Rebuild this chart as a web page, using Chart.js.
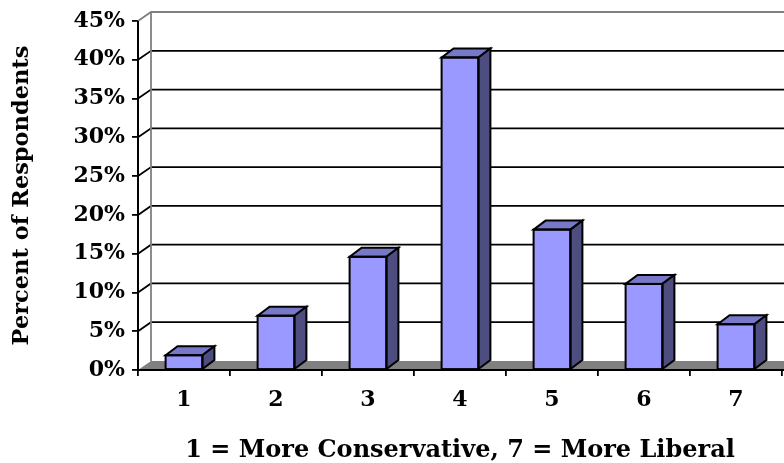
<!DOCTYPE html>
<html>
<head>
<meta charset="utf-8">
<script src="https://cdn.jsdelivr.net/npm/chart.js@4.4.0/dist/chart.umd.min.js"></script>
<style>
  html, body { margin: 0; padding: 0; background: #fff; }
  canvas { display: block; }
</style>
</head>
<body>
<canvas id="chart" width="784" height="463"></canvas>
<script>
// data
const categories = ['1', '2', '3', '4', '5', '6', '7'];
const percents = [1.9, 7.0, 14.6, 40.3, 18.1, 11.1, 5.9];
const yMax = 45;
const yStep = 5;

const xTitle = '1 = More Conservative, 7 = More Liberal';
const yTitle = 'Percent of Respondents';

const fontFamily = '"DejaVu Serif", "Liberation Serif", serif';

// 3d look: how far the back wall sits up/right from the front axes
const wallDx = 13, wallDy = -9;
const barDx = 12, barDy = -9;

const frontColor = '#9999ff';
const topColor = '#7878c8';
const sideColor = '#4d4d80';
const floorColor = '#808080';

const threeD = {
    id: 'threeD',
    beforeDatasetsDraw(chart) {
        const ctx = chart.ctx;
        const area = chart.chartArea;
        const y = chart.scales.y;
        const W = chart.width;

        ctx.save();

        // floor
        ctx.fillStyle = floorColor;
        ctx.beginPath();
        ctx.moveTo(area.left, area.bottom);
        ctx.lineTo(area.left + wallDx, area.bottom + wallDy);
        ctx.lineTo(W, area.bottom + wallDy);
        ctx.lineTo(W, area.bottom);
        ctx.closePath();
        ctx.fill();

        // gridlines on the side wall and back wall
        ctx.lineWidth = 1.8;
        for (let v = yStep; v <= yMax; v += yStep) {
            const py = y.getPixelForValue(v);
            ctx.strokeStyle = v === yMax ? '#808080' : '#000';
            ctx.beginPath();
            ctx.moveTo(area.left, py);
            ctx.lineTo(area.left + wallDx, py + wallDy);
            ctx.lineTo(W, py + wallDy);
            ctx.stroke();
        }

        // back wall left edge
        ctx.strokeStyle = '#808080';
        ctx.beginPath();
        ctx.moveTo(area.left + wallDx, y.getPixelForValue(yMax) + wallDy);
        ctx.lineTo(area.left + wallDx, area.bottom + wallDy);
        ctx.stroke();

        ctx.restore();
    },
    afterDatasetsDraw(chart) {
        const ctx = chart.ctx;
        const area = chart.chartArea;
        const meta = chart.getDatasetMeta(0);

        ctx.save();
        ctx.lineWidth = 2;
        ctx.strokeStyle = '#000';
        ctx.lineJoin = 'miter';

        meta.data.forEach(bar => {
            const p = bar.getProps(['x', 'y', 'base', 'width'], true);
            const left = p.x - p.width / 2;
            const right = p.x + p.width / 2;

            // top face
            ctx.fillStyle = topColor;
            ctx.beginPath();
            ctx.moveTo(left, p.y);
            ctx.lineTo(left + barDx, p.y + barDy);
            ctx.lineTo(right + barDx, p.y + barDy);
            ctx.lineTo(right, p.y);
            ctx.closePath();
            ctx.fill();
            ctx.stroke();

            // side face
            ctx.fillStyle = sideColor;
            ctx.beginPath();
            ctx.moveTo(right, p.y);
            ctx.lineTo(right + barDx, p.y + barDy);
            ctx.lineTo(right + barDx, p.base + barDy);
            ctx.lineTo(right, p.base);
            ctx.closePath();
            ctx.fill();
            ctx.stroke();

            // front outline again so it stays crisp
            ctx.strokeRect(left, p.y, p.width, p.base - p.y);
        });

        // front axes on top of everything
        ctx.lineWidth = 2;
        ctx.beginPath();
        ctx.moveTo(area.left, area.top);
        ctx.lineTo(area.left, area.bottom);
        ctx.lineTo(chart.width, area.bottom);
        ctx.stroke();

        ctx.restore();
    }
};

new Chart(document.getElementById('chart'), {
    type: 'bar',
    data: {
        labels: categories,
        datasets: [{
            data: percents,
            backgroundColor: frontColor,
            borderColor: '#000',
            borderWidth: 0,
            barPercentage: 0.4,
            categoryPercentage: 1
        }]
    },
    options: {
        responsive: false,
        devicePixelRatio: 1,
        animation: false,
        layout: { padding: { left: 9, top: 21, right: 2, bottom: 0 } },
        plugins: {
            legend: { display: false },
            tooltip: { enabled: false }
        },
        scales: {
            x: {
                offset: true,
                grid: { offset: true, drawOnChartArea: false, drawTicks: true, tickLength: 6, color: '#000', lineWidth: 1.8 },
                border: { display: false },
                ticks: { color: '#000', padding: 11, font: { family: fontFamily, size: 22, weight: 'bold' } },
                title: { display: true, text: xTitle, color: '#000', padding: { top: 0, bottom: -2 }, font: { family: fontFamily, size: 24, weight: 'bold' } },
                afterFit(scale) { scale.height = 93; }
            },
            y: {
                min: 0,
                max: yMax,
                grid: { drawOnChartArea: false, drawTicks: true, tickLength: 6, color: '#000', lineWidth: 1.8 },
                border: { display: false },
                ticks: {
                    stepSize: yStep,
                    color: '#000',
                    padding: 7,
                    font: { family: fontFamily, size: 22, weight: 'bold' },
                    callback: v => v + '%'
                },
                title: { display: true, text: yTitle, color: '#000', padding: 0, font: { family: fontFamily, size: 22.5, weight: 'bold' } },
                afterFit(scale) { scale.width = 129; }
            }
        }
    },
    plugins: [threeD]
});
</script>
</body>
</html>
